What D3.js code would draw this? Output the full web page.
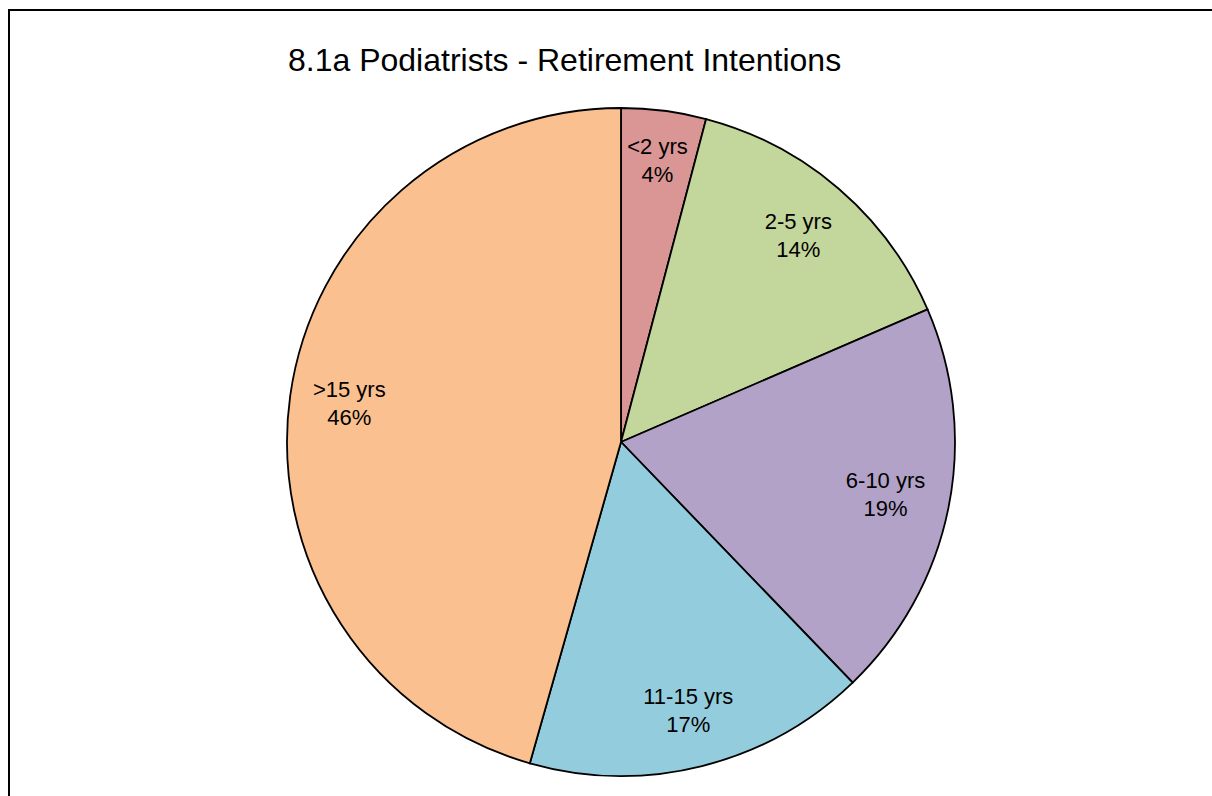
<!DOCTYPE html>
<html>
<head>
<meta charset="utf-8">
<script src="https://cdn.jsdelivr.net/npm/d3@7"></script>
<style>
  body { margin: 0; background: #fff; }
  svg { display: block; font-family: Arial, "Liberation Sans", sans-serif; }
</style>
</head>
<body>
<div id="chart"></div>
<script>
const width = 1212;
const height = 796;
const categories = ['<2 yrs', '2-5 yrs', '6-10 yrs', '11-15 yrs', '>15 yrs'];
const shares = [4.1, 14.4, 19.3, 16.6, 45.6];
const colours = ['#D99694', '#C3D69B', '#B2A2C7', '#93CDDD', '#FAC090'];
const title = '8.1a Podiatrists - Retirement Intentions';

const cx = 621, cy = 442, radius = 334;
const labelEdge = radius - 20; // outer edge of each label box sits here

var svg = d3.select('#chart')
  .append('svg')
  .attr('width', width)
  .attr('height', height);

// chart area border (runs off the right and bottom)
svg.append('rect')
  .attr('x', 9).attr('y', 10)
  .attr('width', 1250).attr('height', 850)
  .attr('fill', 'none')
  .attr('stroke', '#000')
  .attr('stroke-width', 2);

svg.append('text')
  .attr('x', 288)
  .attr('y', 71)
  .style('font-size', '32px')
  .text(title);

const pie = d3.pie().sort(null).value(d => d.value);
const arc = d3.arc().innerRadius(0).outerRadius(radius);

const data = categories.map((c, i) => ({'name': c, 'value': shares[i], 'colour': colours[i]}));
const total = d3.sum(shares);

var g = svg.append('g')
  .attr('transform', `translate(${cx},${cy})`);

g.selectAll('.slice')
  .data(pie(data))
  .enter().append('path')
  .attr('class', 'slice')
  .attr('d', arc)
  .attr('fill', d => d.data.colour)
  .attr('stroke', '#000')
  .attr('stroke-width', 1.8);

var labels = g.selectAll('.lbl')
  .data(pie(data))
  .enter().append('text')
  .attr('class', 'lbl')
  .attr('text-anchor', 'middle')
  .style('font-size', '22px');

labels.append('tspan')
  .attr('x', 0).attr('y', -7)
  .text(d => d.data.name);
labels.append('tspan')
  .attr('x', 0).attr('y', 21)
  .text(d => Math.round(d.data.value / total * 100) + '%');

// place each label box inside the slice, its far edge a fixed distance from the rim
labels.attr('transform', function(d) {
  const bb = this.getBBox();
  const a = (d.startAngle + d.endAngle) / 2;
  const ux = Math.sin(a), uy = -Math.cos(a);
  const r = labelEdge - (Math.abs(ux) * bb.width / 2 + Math.abs(uy) * bb.height / 2);
  return `translate(${ux * r},${uy * r})`;
});
</script>
</body>
</html>
